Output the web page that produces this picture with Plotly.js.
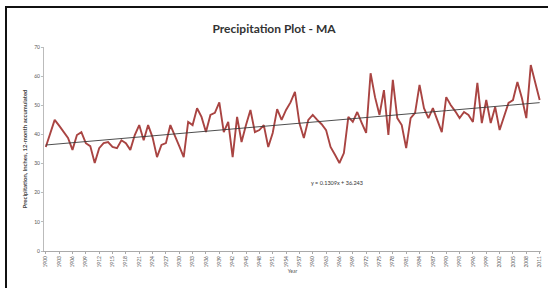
<!DOCTYPE html>
<html><head><meta charset="utf-8">
<script src="https://cdn.plot.ly/plotly-3.0.1.min.js"></script>
<style>
html,body{margin:0;padding:0;background:#fff;}
#chart{position:absolute;left:0;top:0;width:548px;height:288px;}
#frame{position:absolute;left:5px;top:6px;width:600px;height:400px;border:2px solid #111;pointer-events:none;}
</style></head>
<body>
<div id="chart"></div>
<div id="frame"></div>
<script>
const years = [];
for (let y = 1900; y <= 2011; y++) years.push(y);
const precip = [
35.7,40,45,43,40.8,38.8,34.7,39.8,40.8,37,36,30.2,35.3,37,37.4,35.7,35.3,38,37,34.7,
39.8,43.2,38,43.2,39,32.2,36.4,37,43.2,39.8,36,32.2,44.3,43.2,49,46,40.8,46.7,47.4,51,
40.8,44.3,32.2,46,37.4,43.2,48.4,40.8,41.5,43.2,35.7,40.5,48.7,45,48.4,51,54.6,43.9,38.8,45,
46.7,45,43.5,41.5,35.7,33,30.2,33.6,46,44.3,47.7,44,40.5,61,52.8,46.7,55.2,39.8,58.7,45.6,
43.2,35.3,45.6,47.4,57,49,45.6,49,45,40.8,52.8,50.1,48,45.6,47.7,46.7,44.3,57.7,43.9,51.8,
43.9,49.4,41.5,46,50.8,51.8,58,52.5,45.6,63.8,58,51.8
];
const tickYears = years.filter((y) => (y - 1900) % 3 === 0);
const trendSlope = 0.1309;
const trendIntercept = 36.243;
const trendLabel = 'y = 0.1309x + 36.243';

const trend = years.map((y, i) => trendSlope * (i + 1) + trendIntercept);

const traces = [
  {x: years, y: precip, type: 'scatter', mode: 'lines',
   line: {color: '#A94442', width: 1.9}, hoverinfo: 'x+y'},
  {x: years, y: trend, type: 'scatter', mode: 'lines',
   line: {color: '#3a3a3a', width: 0.9}, hoverinfo: 'skip'}
];

const layout = {
  width: 548, height: 288,
  margin: {l: 44, r: 7, t: 47, b: 37},
  paper_bgcolor: '#fff', plot_bgcolor: '#fff',
  showlegend: false,
  font: {family: 'Lato, "Liberation Sans", sans-serif', color: '#333'},
  title: {text: '<b>Precipitation Plot - MA</b>', x: 0.5, xanchor: 'center',
          y: 0.9, yanchor: 'middle',
          font: {family: 'Lato, sans-serif', size: 12, color: '#333'}},
  xaxis: {
    range: [1899.6, 2011.3], tickmode: 'array', tickvals: tickYears,
    ticktext: tickYears.map(String), tickangle: -90,
    tickfont: {size: 5, color: '#555'},
    showgrid: false, zeroline: false, showline: true, linecolor: '#aaa', linewidth: 1,
    ticks: 'outside', ticklen: 2, tickcolor: '#aaa',
    title: {text: 'Year', font: {size: 5, color: '#555'}, standoff: 2}
  },
  yaxis: {
    range: [0, 70], dtick: 10, tickfont: {size: 5, color: '#555'},
    showgrid: false, zeroline: false, showline: true, linecolor: '#bbb', linewidth: 1,
    ticks: 'outside', ticklen: 2, tickcolor: '#bbb',
    title: {text: '<b>Precipitation, inches, 12-month accumulated</b>',
            font: {size: 6, color: '#444'}, standoff: 6}
  },
  annotations: [{
    x: 1965.5, y: 23.5, xref: 'x', yref: 'y', text: trendLabel, showarrow: false,
    font: {size: 5.5, color: '#333'}
  }]
};

Plotly.newPlot('chart', traces, layout, {displayModeBar: false, staticPlot: true});
</script>
</body></html>
